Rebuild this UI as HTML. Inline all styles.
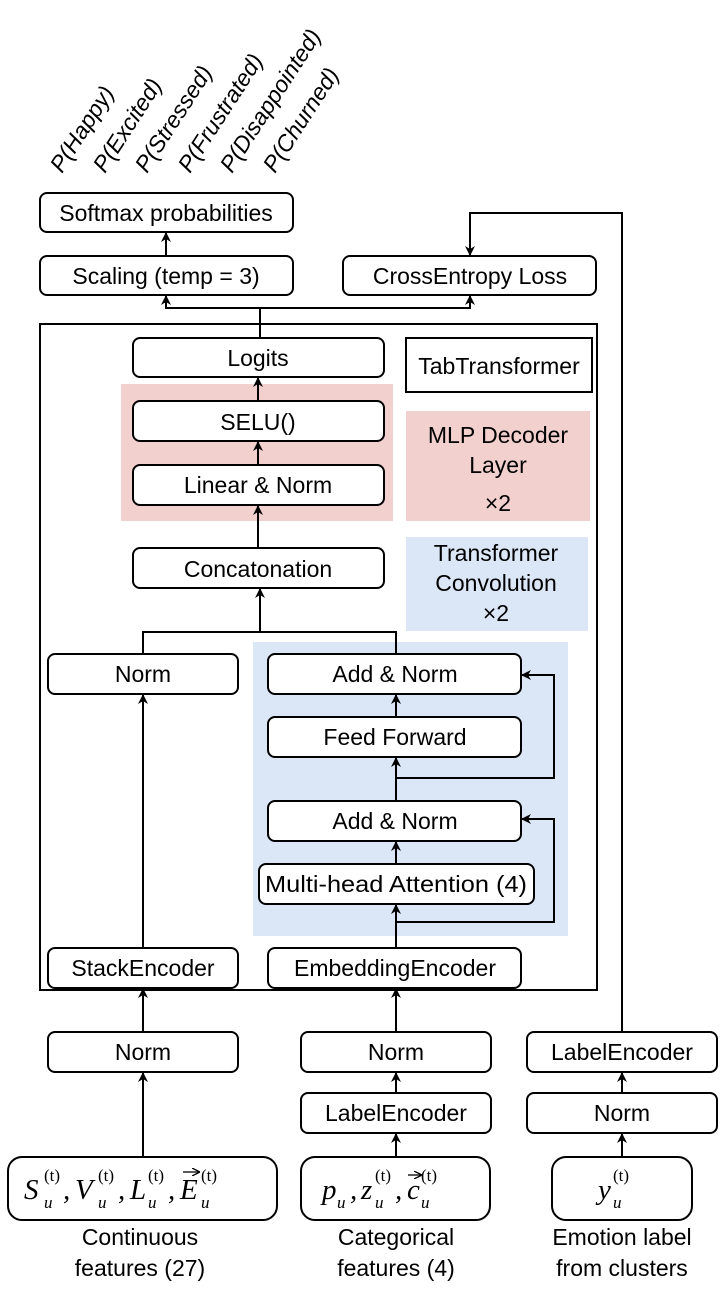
<!DOCTYPE html>
<html><head><meta charset="utf-8"><style>
html,body{margin:0;padding:0;background:#fff;}
svg{display:block;}
text{font-family:"Liberation Sans",sans-serif;font-size:23px;fill:#000;}
.m{font-family:"Liberation Serif",serif;font-style:italic;font-size:29px;}
.s{font-family:"Liberation Serif",serif;font-style:italic;font-size:17px;}
.t{font-family:"Liberation Serif",serif;font-size:17px;}
</style></head><body>
<svg width="720" height="1290" viewBox="0 0 720 1290" xmlns="http://www.w3.org/2000/svg">
<defs><marker id="a" markerWidth="10" markerHeight="10" refX="9" refY="5" orient="auto" markerUnits="userSpaceOnUse"><path d="M0,0 L10,5 L0,10 L3,5 z" fill="#000"/></marker>
<marker id="v" markerWidth="8" markerHeight="8" refX="7" refY="4" orient="auto" markerUnits="userSpaceOnUse"><path d="M0,0 L8,4 L0,8" fill="none" stroke="#000" stroke-width="1.3"/></marker></defs>
<g text-anchor="start" font-style="italic" font-size="23">
<text transform="translate(62,174) rotate(-57)">P(Happy)</text>
<text transform="translate(105,174) rotate(-57)">P(Excited)</text>
<text transform="translate(147,174) rotate(-57)">P(Stressed)</text>
<text transform="translate(190,174) rotate(-57)">P(Frustrated)</text>
<text transform="translate(232,174) rotate(-57)">P(Disappointed)</text>
<text transform="translate(275,174) rotate(-57)">P(Churned)</text>
</g>
<rect x="121" y="384" width="272" height="137" fill="#f2d0ce"/>
<rect x="406" y="411" width="184" height="110" fill="#f2d0ce"/>
<rect x="406" y="537" width="182" height="94" fill="#dbe6f7"/>
<rect x="253" y="642" width="315" height="294" fill="#dbe6f7"/>
<rect x="40" y="324" width="557" height="666" fill="none" stroke="#000" stroke-width="2"/>
<rect x="406" y="338" width="186" height="54" fill="#fff" stroke="#000" stroke-width="2"/>
<text x="499" y="374" text-anchor="middle">TabTransformer</text>
<g fill="#fff" stroke="#000" stroke-width="2">
<rect x="40" y="193" width="253" height="39" rx="7"/>
<rect x="40" y="256" width="253" height="39" rx="7"/>
<rect x="343" y="256" width="253" height="39" rx="7"/>
<rect x="133" y="338" width="251" height="39" rx="7"/>
<rect x="133" y="401" width="251" height="40" rx="7"/>
<rect x="133" y="465" width="251" height="40" rx="7"/>
<rect x="133" y="548" width="251" height="40" rx="7"/>
<rect x="48" y="654" width="190" height="40" rx="7"/>
<rect x="268" y="654" width="253" height="40" rx="7"/>
<rect x="268" y="717" width="253" height="40" rx="7"/>
<rect x="268" y="801" width="253" height="40" rx="7"/>
<rect x="259" y="864" width="275" height="40" rx="7"/>
<rect x="48" y="948" width="190" height="40" rx="7"/>
<rect x="268" y="948" width="253" height="40" rx="7"/>
<rect x="48" y="1032" width="190" height="40" rx="7"/>
<rect x="301" y="1032" width="190" height="40" rx="7"/>
<rect x="527" y="1032" width="190" height="40" rx="7"/>
<rect x="301" y="1093" width="190" height="40" rx="7"/>
<rect x="527" y="1093" width="190" height="40" rx="7"/>
<rect x="8" y="1157" width="269" height="63" rx="14"/>
<rect x="301" y="1157" width="189" height="63" rx="14"/>
<rect x="552" y="1157" width="140" height="63" rx="14"/>
</g>
<g text-anchor="middle">
<text x="166" y="221">Softmax probabilities</text>
<text x="166" y="284">Scaling (temp = 3)</text>
<text x="470" y="284">CrossEntropy Loss</text>
<text x="258" y="366">Logits</text>
<text x="258" y="430">SELU()</text>
<text x="258" y="493">Linear &amp; Norm</text>
<text x="258" y="577">Concatonation</text>
<text x="498" y="443">MLP Decoder</text>
<text x="498" y="473">Layer</text>
<text x="498" y="511" font-family="Liberation Serif,serif" font-size="24">×2</text>
<text x="496" y="561">Transformer</text>
<text x="496" y="591">Convolution</text>
<text x="496" y="621" font-family="Liberation Serif,serif" font-size="24">×2</text>
<text x="143" y="682">Norm</text>
<text x="395" y="682">Add &amp; Norm</text>
<text x="395" y="745">Feed Forward</text>
<text x="395" y="829">Add &amp; Norm</text>
<text x="396" y="892" textLength="262" lengthAdjust="spacingAndGlyphs">Multi-head Attention (4)</text>
<text x="143" y="976">StackEncoder</text>
<text x="395" y="976">EmbeddingEncoder</text>
<text x="143" y="1060">Norm</text>
<text x="396" y="1060">Norm</text>
<text x="622" y="1060">LabelEncoder</text>
<text x="396" y="1121">LabelEncoder</text>
<text x="622" y="1121">Norm</text>
<text x="140" y="1245">Continuous</text>
<text x="140" y="1276">features (27)</text>
<text x="396" y="1245">Categorical</text>
<text x="396" y="1276">features (4)</text>
<text x="622" y="1245">Emotion label</text>
<text x="622" y="1276">from clusters</text>
</g>
<!-- continuous math -->
<text class="m" x="24" y="1199">S</text><text class="s" x="44" y="1208">u</text><text class="t" x="44" y="1181">(t)</text>
<text class="m" x="63" y="1199">,</text>
<text class="m" x="75" y="1199">V</text><text class="s" x="98" y="1208">u</text><text class="t" x="98" y="1181">(t)</text>
<text class="m" x="118" y="1199">,</text>
<text class="m" x="130" y="1199">L</text><text class="s" x="148" y="1208">u</text><text class="t" x="148" y="1181">(t)</text>
<text class="m" x="168" y="1199">,</text>
<text class="m" x="180" y="1199">E</text><text class="s" x="201" y="1208">u</text><text class="t" x="201" y="1181">(t)</text>
<!-- categorical -->
<text class="m" x="322" y="1199">p</text><text class="s" x="337" y="1208">u</text>
<text class="m" x="350" y="1199">,</text>
<text class="m" x="361" y="1199">z</text><text class="s" x="375" y="1208">u</text><text class="t" x="375" y="1181">(t)</text>
<text class="m" x="395" y="1199">,</text>
<text class="m" x="407" y="1199">c</text><text class="s" x="421" y="1208">u</text><text class="t" x="421" y="1181">(t)</text>
<!-- emotion -->
<text class="m" x="598" y="1199">y</text><text class="s" x="613" y="1208">u</text><text class="t" x="613" y="1181">(t)</text>
<g stroke="#000" stroke-width="1.3" fill="none">
<line x1="183" y1="1172" x2="199" y2="1172" marker-end="url(#v)"/>
<line x1="408" y1="1175" x2="421" y2="1175" marker-end="url(#v)"/>
</g>
<g stroke="#000" stroke-width="2" fill="none">
<line x1="166" y1="256" x2="166" y2="233" marker-end="url(#a)"/>
<polyline points="260,324 260,308 166,308 166,296" marker-end="url(#a)"/>
<polyline points="260,308 470,308 470,296" marker-end="url(#a)"/>
<line x1="260" y1="324" x2="260" y2="338"/>
<polyline points="622,1032 622,213 470,213 470,255" marker-end="url(#a)"/>
<line x1="258" y1="401" x2="258" y2="378" marker-end="url(#a)"/>
<line x1="258" y1="465" x2="258" y2="442" marker-end="url(#a)"/>
<line x1="258" y1="548" x2="258" y2="506" marker-end="url(#a)"/>
<line x1="260" y1="632" x2="260" y2="589" marker-end="url(#a)"/>
<polyline points="143,654 143,632 396,632 396,654"/>
<line x1="396" y1="717" x2="396" y2="695" marker-end="url(#a)"/>
<line x1="396" y1="801" x2="396" y2="758" marker-end="url(#a)"/>
<polyline points="396,778 554,778 554,675 522,675" marker-end="url(#a)"/>
<line x1="396" y1="864" x2="396" y2="842" marker-end="url(#a)"/>
<line x1="396" y1="948" x2="396" y2="905" marker-end="url(#a)"/>
<polyline points="396,922 554,922 554,819 522,819" marker-end="url(#a)"/>
<line x1="143" y1="948" x2="143" y2="695" marker-end="url(#a)"/>
<line x1="143" y1="1032" x2="143" y2="989" marker-end="url(#a)"/>
<line x1="396" y1="1032" x2="396" y2="989" marker-end="url(#a)"/>
<line x1="143" y1="1157" x2="143" y2="1073" marker-end="url(#a)"/>
<line x1="396" y1="1093" x2="396" y2="1073" marker-end="url(#a)"/>
<line x1="396" y1="1157" x2="396" y2="1134" marker-end="url(#a)"/>
<line x1="622" y1="1093" x2="622" y2="1073" marker-end="url(#a)"/>
<line x1="622" y1="1157" x2="622" y2="1134" marker-end="url(#a)"/>
</g>
</svg>
</body></html>
